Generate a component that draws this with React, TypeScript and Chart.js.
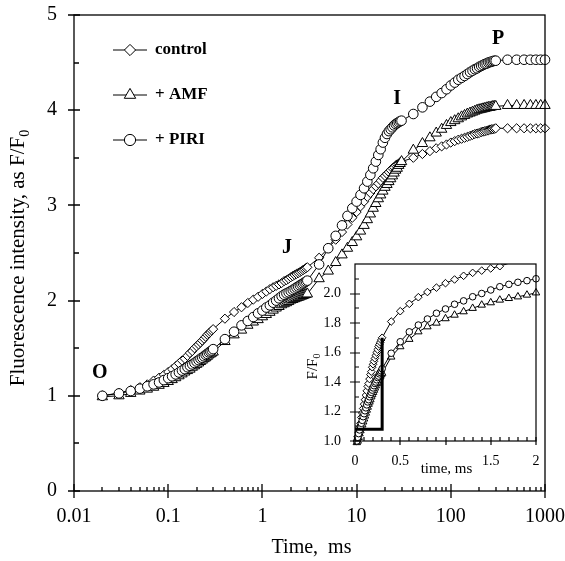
import React, { useEffect, useRef } from 'react';
import { Chart, registerables } from 'chart.js';

Chart.register(...registerables);

// ---------- data ----------
const timeMs = [
  0.02, 0.03, 0.04, 0.05, 0.06, 0.07, 0.08, 0.09, 0.1, 0.11, 0.12, 0.13, 0.14, 0.15, 0.16,
  0.17, 0.18, 0.19, 0.2, 0.21, 0.22, 0.23, 0.24, 0.25, 0.26, 0.27, 0.28, 0.29, 0.3,
  0.4, 0.5, 0.6, 0.7, 0.8, 0.9, 1.0, 1.1, 1.2, 1.3, 1.4, 1.5, 1.6, 1.7, 1.8, 1.9, 2.0,
  2.1, 2.2, 2.3, 2.4, 2.5, 2.6, 2.7, 2.8, 2.9, 3.0,
  4, 5, 6, 7, 8, 9, 10, 11, 12, 13, 14, 15, 16, 17, 18, 19, 20, 21, 22, 23, 24, 25, 26,
  27, 28, 29, 30,
  40, 50, 60, 70, 80, 90, 100, 110, 120, 130, 140, 150, 160, 170, 180, 190, 200, 210,
  220, 230, 240, 250, 260, 270, 280, 290, 300,
  400, 500, 600, 700, 800, 900, 1000,
];

const controlF = [
  1.0, 1.03, 1.06, 1.09, 1.12, 1.16, 1.19, 1.22, 1.25, 1.28, 1.31, 1.34, 1.37, 1.39, 1.42,
  1.45, 1.47, 1.5, 1.52, 1.54, 1.56, 1.58, 1.6, 1.62, 1.64, 1.655, 1.67, 1.685, 1.7,
  1.81, 1.88, 1.93, 1.975, 2.01, 2.04, 2.07, 2.095, 2.12, 2.14, 2.155, 2.17, 2.185, 2.205,
  2.215, 2.23, 2.245, 2.257, 2.27, 2.28, 2.29, 2.3, 2.31, 2.32, 2.33, 2.34, 2.35,
  2.45, 2.55, 2.64, 2.72, 2.8, 2.87, 2.93, 2.99, 3.04, 3.09, 3.13, 3.17, 3.2, 3.23, 3.26,
  3.29, 3.31, 3.33, 3.35, 3.37, 3.39, 3.4, 3.42, 3.43, 3.44, 3.45, 3.46,
  3.5, 3.54, 3.57, 3.6, 3.62, 3.64, 3.66, 3.675, 3.69, 3.7, 3.71, 3.72, 3.73, 3.74, 3.75,
  3.755, 3.76, 3.77, 3.775, 3.78, 3.785, 3.79, 3.795, 3.8, 3.8, 3.805, 3.81,
  3.81, 3.81, 3.81, 3.81, 3.81, 3.81, 3.81,
];

const amfF = [
  0.99, 1.0, 1.025, 1.05, 1.07, 1.09, 1.11, 1.13, 1.15, 1.17, 1.19, 1.21, 1.23, 1.25, 1.265,
  1.28, 1.3, 1.315, 1.33, 1.345, 1.36, 1.375, 1.39, 1.4, 1.415, 1.43, 1.44, 1.45, 1.46,
  1.57, 1.64, 1.69, 1.741, 1.775, 1.8, 1.83, 1.854, 1.877, 1.9, 1.922, 1.938, 1.956, 1.967,
  1.978, 1.99, 2.005, 2.012, 2.02, 2.027, 2.034, 2.04, 2.047, 2.053, 2.06, 2.065, 2.07,
  2.23, 2.31, 2.4, 2.48, 2.55, 2.61, 2.67, 2.73, 2.79, 2.85, 2.91, 2.97, 3.02, 3.07, 3.11,
  3.15, 3.19, 3.22, 3.25, 3.28, 3.31, 3.34, 3.37, 3.39, 3.42, 3.44, 3.46,
  3.58, 3.65, 3.71, 3.76, 3.8, 3.84, 3.87, 3.89, 3.91, 3.93, 3.945, 3.96, 3.97, 3.98, 3.99,
  4.0, 4.005, 4.01, 4.015, 4.02, 4.025, 4.03, 4.03, 4.035, 4.04, 4.04, 4.04,
  4.05, 4.05, 4.05, 4.05, 4.05, 4.05, 4.05,
];

const piriF = [
  1.0, 1.025, 1.05, 1.075, 1.1, 1.12, 1.14, 1.165, 1.185, 1.205, 1.225, 1.245, 1.265, 1.28,
  1.3, 1.315, 1.33, 1.345, 1.36, 1.375, 1.39, 1.4, 1.415, 1.43, 1.44, 1.455, 1.465, 1.475, 1.49,
  1.595, 1.673, 1.74, 1.786, 1.827, 1.866, 1.895, 1.927, 1.95, 1.978, 2.0, 2.024, 2.046, 2.062,
  2.076, 2.087, 2.1, 2.113, 2.125, 2.137, 2.148, 2.16, 2.17, 2.18, 2.19, 2.2, 2.21,
  2.38, 2.55, 2.68, 2.79, 2.89, 2.97, 3.04, 3.11, 3.18, 3.25, 3.32, 3.39, 3.46, 3.53, 3.59,
  3.66, 3.71, 3.75, 3.78, 3.8, 3.82, 3.84, 3.855, 3.865, 3.875, 3.885, 3.89,
  3.96, 4.03, 4.09, 4.14, 4.18, 4.22, 4.26, 4.29, 4.32, 4.34, 4.36, 4.38, 4.4, 4.415, 4.43,
  4.44, 4.455, 4.465, 4.475, 4.485, 4.49, 4.5, 4.505, 4.51, 4.515, 4.52, 4.52,
  4.53, 4.53, 4.53, 4.53, 4.53, 4.53, 4.53,
];

const seriesNames = ['control', '+ AMF', '+ PIRI'];

const xTickValues = [0.01, 0.1, 1, 10, 100, 1000];
const xTickLabels = ['0.01', '0.1', '1', '10', '100', '1000'];
const yTickValues = [0, 1, 2, 3, 4, 5];
const yTickLabels = ['0', '1', '2', '3', '4', '5'];

const phaseLabels = ['O', 'J', 'I', 'P'];
const phaseTimes = [0.0188, 1.82, 26.9, 318];
const phaseValues = [1.24, 2.55, 4.12, 4.75];

const insetMaxTime = 2;
const insetXTickValues = [0, 0.5, 1, 1.5, 2];
const insetXTickLabels = ['0', '0.5', '', '1.5', '2'];
const insetYTickValues = [1.0, 1.2, 1.4, 1.6, 1.8, 2.0];
const insetYTickLabels = ['1.0', '1.2', '1.4', '1.6', '1.8', '2.0'];

const jStepX = [0, 0.3, 0.3];
const jStepY = [1.08, 1.08, 1.7];

// ---------- styling ----------
const FONT = "'Liberation Serif', 'Times New Roman', serif";
type Mk = 'circle' | 'rectRot' | 'triangle';
const seriesValues = [controlF, amfF, piriF];
const markerStyles: Mk[] = ['rectRot', 'triangle', 'circle'];
const mainRadius = [4.6, 6, 4.8];
const insetRadius = [3.8, 4.3, 3.3];
const legendRadius = [5.6, 6.6, 5.6];
const drawOrder = [2, 1, 0];

function marker(ctx: CanvasRenderingContext2D, s: Mk, x: number, y: number, r: number) {
  ctx.beginPath();
  if (s === 'circle') {
    ctx.arc(x, y, r, 0, Math.PI * 2);
  } else if (s === 'rectRot') {
    ctx.moveTo(x - r, y);
    ctx.lineTo(x, y - r);
    ctx.lineTo(x + r, y);
    ctx.lineTo(x, y + r);
    ctx.closePath();
  } else {
    ctx.moveTo(x, y - r);
    ctx.lineTo(x + 0.866 * r, y + 0.5 * r);
    ctx.lineTo(x - 0.866 * r, y + 0.5 * r);
    ctx.closePath();
  }
  ctx.fillStyle = '#fff';
  ctx.fill();
  ctx.strokeStyle = '#000';
  ctx.lineWidth = 1;
  ctx.stroke();
}

function subText(
  ctx: CanvasRenderingContext2D,
  main: string,
  sub: string,
  size: number,
  subSize: number,
  cx: number,
  cy: number,
  rotate: boolean
) {
  ctx.save();
  ctx.translate(cx, cy);
  if (rotate) ctx.rotate(-Math.PI / 2);
  ctx.font = `${size}px ${FONT}`;
  const w1 = ctx.measureText(main).width;
  ctx.font = `${subSize}px ${FONT}`;
  const w2 = ctx.measureText(sub).width;
  const x0 = -(w1 + w2) / 2;
  ctx.textAlign = 'left';
  ctx.textBaseline = 'alphabetic';
  ctx.fillStyle = '#000';
  ctx.font = `${size}px ${FONT}`;
  ctx.fillText(main, x0, size * 0.33);
  ctx.font = `${subSize}px ${FONT}`;
  ctx.fillText(sub, x0 + w1, size * 0.33 + subSize * 0.35);
  ctx.restore();
}

const noPad = (s: any) => {
  s.paddingLeft = 0;
  s.paddingRight = 0;
  s.paddingTop = 0;
  s.paddingBottom = 0;
};

const mainDecor = {
  id: 'mainDecor',
  afterDatasetsDraw(chart: any) {
    const { ctx, chartArea: a, scales } = chart;
    const xs = scales.x;
    const ys = scales.y;
    ctx.save();
    ctx.strokeStyle = '#000';
    ctx.lineWidth = 1.3;
    ctx.strokeRect(a.left, a.top, a.right - a.left, a.bottom - a.top);
    ctx.beginPath();
    xTickValues.forEach((v) => {
      const px = Math.round(xs.getPixelForValue(v));
      ctx.moveTo(px, a.bottom - 7);
      ctx.lineTo(px, a.bottom + 7);
    });
    for (let i = 0; i < xTickValues.length - 1; i++) {
      for (let k = 2; k <= 9; k++) {
        const px = Math.round(xs.getPixelForValue(xTickValues[i] * k));
        ctx.moveTo(px, a.bottom);
        ctx.lineTo(px, a.bottom - 4);
      }
    }
    yTickValues.forEach((v) => {
      const py = Math.round(ys.getPixelForValue(v));
      ctx.moveTo(a.left - 6, py);
      ctx.lineTo(a.left + 6, py);
    });
    for (let i = 0; i < yTickValues.length - 1; i++) {
      const py = Math.round(ys.getPixelForValue((yTickValues[i] + yTickValues[i + 1]) / 2));
      ctx.moveTo(a.left, py);
      ctx.lineTo(a.left + 5, py);
    }
    ctx.stroke();

    // legend
    seriesNames.forEach((name, i) => {
      const ly = a.top + 35 + i * 45;
      const lx = a.left + 39;
      ctx.beginPath();
      ctx.strokeStyle = '#000';
      ctx.lineWidth = 1;
      ctx.moveTo(lx, ly);
      ctx.lineTo(lx + 34, ly);
      ctx.stroke();
      marker(ctx, markerStyles[i], lx + 17, ly, legendRadius[i]);
      ctx.fillStyle = '#000';
      ctx.font = `bold 17px ${FONT}`;
      ctx.textAlign = 'left';
      ctx.textBaseline = 'middle';
      ctx.fillText(name, lx + 42, ly);
    });

    // phase labels
    ctx.font = `bold 20px ${FONT}`;
    ctx.textAlign = 'center';
    ctx.textBaseline = 'middle';
    ctx.fillStyle = '#000';
    phaseLabels.forEach((l, i) => {
      ctx.fillText(l, xs.getPixelForValue(phaseTimes[i]), ys.getPixelForValue(phaseValues[i]));
    });

    // axis titles
    ctx.font = `20px ${FONT}`;
    ctx.textAlign = 'center';
    ctx.textBaseline = 'middle';
    ctx.fillText('Time,  ms', (a.left + a.right) / 2 + 2, a.bottom + 57);
    subText(ctx, 'Fluorescence intensity, as F/F', '0', 21, 14, 17, (a.top + a.bottom) / 2 + 5, true);
    ctx.restore();
  },
};

const insetDecor = {
  id: 'insetDecor',
  afterDatasetsDraw(chart: any) {
    const { ctx, chartArea: a, scales } = chart;
    const xs = scales.x;
    const ys = scales.y;
    ctx.save();
    ctx.strokeStyle = '#000';
    ctx.lineWidth = 1.2;
    ctx.strokeRect(a.left, a.top, a.right - a.left, a.bottom - a.top);
    ctx.beginPath();
    const xMax = xs.max;
    for (let k = 0; k <= Math.round(xMax * 10); k++) {
      const v = k / 10;
      const px = Math.round(xs.getPixelForValue(v));
      if (k % 5 === 0) {
        ctx.moveTo(px, a.bottom - 4);
        ctx.lineTo(px, a.bottom + 4);
      } else {
        ctx.moveTo(px, a.bottom);
        ctx.lineTo(px, a.bottom - 4);
      }
    }
    const yMin = ys.min;
    const steps = Math.round((ys.max - yMin) * 10);
    for (let k = 0; k < steps; k++) {
      const v = yMin + k / 10;
      const py = Math.round(ys.getPixelForValue(v));
      if (k % 2 === 0) {
        ctx.moveTo(a.left - 5, py);
        ctx.lineTo(a.left + 5, py);
      } else {
        ctx.moveTo(a.left, py);
        ctx.lineTo(a.left + 4, py);
      }
    }
    ctx.stroke();
    ctx.fillStyle = '#000';
    ctx.font = `15px ${FONT}`;
    ctx.textAlign = 'center';
    ctx.textBaseline = 'middle';
    ctx.fillText('time, ms', xs.getPixelForValue(1) + 1, a.bottom + 28);
    subText(ctx, 'F/F', '0', 15, 10, a.left - 43, (a.top + a.bottom) / 2 + 14, true);
    ctx.restore();
  },
};

export default function App() {
  const mainRef = useRef<HTMLCanvasElement | null>(null);
  const insetRef = useRef<HTMLCanvasElement | null>(null);

  useEffect(() => {
    if (!mainRef.current || !insetRef.current) return;

    const mainDatasets: any[] = seriesNames.map((name, s) => ({
      label: name,
      data: timeMs.map((t, i) => ({ x: t, y: seriesValues[s][i] })),
      borderColor: '#000',
      borderWidth: 1,
      pointStyle: markerStyles[s],
      pointRadius: mainRadius[s],
      pointBackgroundColor: '#fff',
      pointBorderColor: '#000',
      pointBorderWidth: 1,
      tension: 0,
      order: drawOrder[s],
      clip: 8,
    }));

    const main = new Chart(mainRef.current, {
      type: 'line',
      data: { datasets: mainDatasets },
      plugins: [mainDecor],
      options: {
        responsive: false,
        animation: false,
        devicePixelRatio: 1,
        events: [],
        layout: { padding: { left: 0, top: 15, right: 20, bottom: 0 } },
        plugins: { legend: { display: false }, tooltip: { enabled: false } },
        scales: {
          x: {
            type: 'logarithmic',
            min: 0.01,
            max: 1000,
            afterBuildTicks: (s: any) => {
              s.ticks = xTickValues.map((v) => ({ value: v }));
            },
            afterFit: (s: any) => {
              s.height = 70;
              noPad(s);
            },
            grid: { display: false, drawTicks: false },
            border: { display: false },
            ticks: {
              autoSkip: false,
              maxRotation: 0,
              minRotation: 0,
              padding: 14,
              color: '#000',
              font: { family: FONT, size: 20 },
              callback: (_v: any, i: number) => xTickLabels[i],
            },
          },
          y: {
            type: 'linear',
            min: 0,
            max: 5,
            afterBuildTicks: (s: any) => {
              s.ticks = yTickValues.map((v) => ({ value: v }));
            },
            afterFit: (s: any) => {
              s.width = 74;
              noPad(s);
            },
            grid: { display: false, drawTicks: false },
            border: { display: false },
            ticks: {
              padding: 17,
              color: '#000',
              font: { family: FONT, size: 20 },
              callback: (_v: any, i: number) => yTickLabels[i],
            },
          },
        },
      } as any,
    });

    const insetIdx = timeMs.map((_t, i) => i).filter((i) => timeMs[i] <= insetMaxTime);
    const insetTop = 2.2;
    const insetDatasets: any[] = seriesNames.map((name, s) => ({
      label: name,
      data: insetIdx.map((i) => ({ x: timeMs[i], y: seriesValues[s][i] })),
      borderColor: '#000',
      borderWidth: 1,
      pointStyle: markerStyles[s],
      pointRadius: (c: any) => (c.raw && c.raw.y > insetTop - 0.01 ? 0 : insetRadius[s]),
      pointBackgroundColor: '#fff',
      pointBorderColor: '#000',
      pointBorderWidth: 1,
      tension: 0,
      order: drawOrder[s] + 1,
      clip: { left: 6, top: 0, right: 6, bottom: 6 },
    }));
    insetDatasets.push({
      label: 'step',
      data: jStepX.map((x, i) => ({ x, y: jStepY[i] })),
      borderColor: '#000',
      borderWidth: 3,
      pointRadius: 0,
      tension: 0,
      order: 0,
      clip: 2,
    });

    const inset = new Chart(insetRef.current, {
      type: 'line',
      data: { datasets: insetDatasets },
      plugins: [insetDecor],
      options: {
        responsive: false,
        animation: false,
        devicePixelRatio: 1,
        events: [],
        layout: { padding: { left: 0, top: 14, right: 14, bottom: 0 } },
        plugins: { legend: { display: false }, tooltip: { enabled: false } },
        scales: {
          x: {
            type: 'linear',
            min: 0,
            max: insetMaxTime,
            afterBuildTicks: (s: any) => {
              s.ticks = insetXTickValues.map((v) => ({ value: v }));
            },
            afterFit: (s: any) => {
              s.height = 39;
              noPad(s);
            },
            grid: { display: false, drawTicks: false },
            border: { display: false },
            ticks: {
              autoSkip: false,
              maxRotation: 0,
              minRotation: 0,
              padding: 12,
              color: '#000',
              font: { family: FONT, size: 14 },
              callback: (_v: any, i: number) => insetXTickLabels[i],
            },
          },
          y: {
            type: 'linear',
            min: 1.0,
            max: insetTop,
            afterBuildTicks: (s: any) => {
              s.ticks = insetYTickValues.map((v) => ({ value: v }));
            },
            afterFit: (s: any) => {
              s.width = 55;
              noPad(s);
            },
            grid: { display: false, drawTicks: false },
            border: { display: false },
            ticks: {
              padding: 14,
              color: '#000',
              font: { family: FONT, size: 14 },
              callback: (_v: any, i: number) => insetYTickLabels[i],
            },
          },
        },
      } as any,
    });

    return () => {
      main.destroy();
      inset.destroy();
    };
  }, []);

  return (
    <div style={{ position: 'absolute', left: 0, top: 0, width: 565, height: 561, background: '#fff' }}>
      <canvas
        ref={mainRef}
        width={565}
        height={561}
        style={{ position: 'absolute', left: 0, top: 0, width: 565, height: 561, display: 'block' }}
      />
      <canvas
        ref={insetRef}
        width={250}
        height={230}
        style={{ position: 'absolute', left: 300, top: 250, width: 250, height: 230, display: 'block' }}
      />
    </div>
  );
}
